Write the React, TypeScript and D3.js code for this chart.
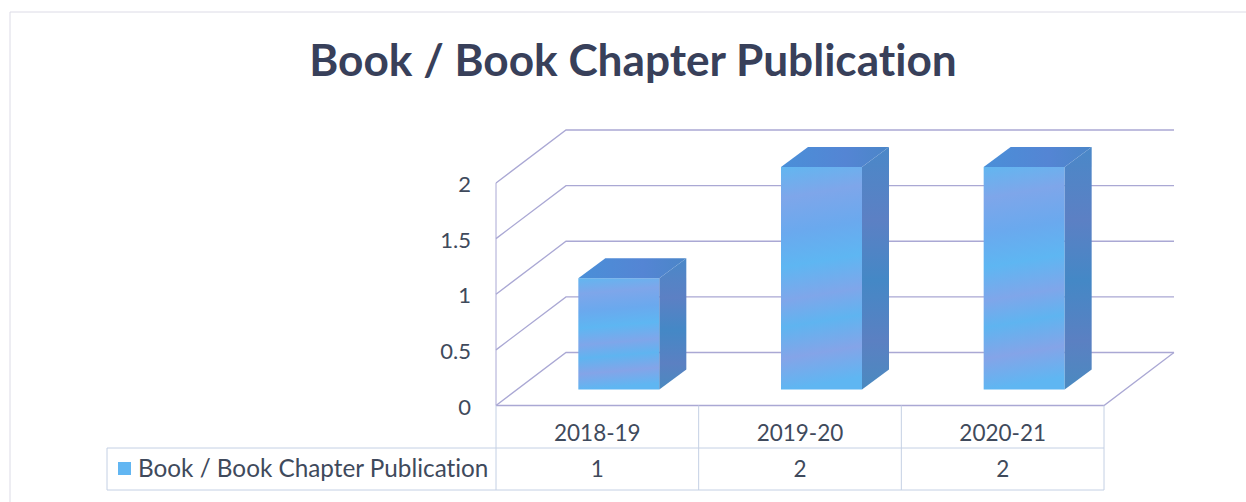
import React from "react";
import * as d3 from "d3";

const categories = ["2018-19", "2019-20", "2020-21"];
const seriesName = "Book / Book Chapter Publication";
const seriesValues = [1, 2, 2];
const yTicks = [0, 0.5, 1, 1.5, 2];
const title = "Book / Book Chapter Publication";

const W = 1246, H = 502;
const FONT = "Lato, Carlito, 'Open Sans', sans-serif";
const TEXT = "#3f4a5c";
const GRID = "#aaa8d4";
const TABLE = "#c4d0e4";

const x0 = 496, x1 = 1104, y0 = 405.5, y2 = 183;
const depthX = 70, depthY = 53;
const barDepthX = 27, barDepthY = 20;
const barInset = 16;
const barW = 81;
const legendLeft = 107, rowMid = 448, rowBottom = 490;

const x = d3.scaleBand<string>().domain(categories).range([x0, x1]);
const y = d3.scaleLinear().domain([0, 2]).range([y0, y2]);
const pts = (a: number[][]) => a.map((p) => p.join(",")).join(" ");

export default function App() {
  const floor = y(0);
  const line = d3.line();
  return (
    <svg width={W} height={H} viewBox={`0 0 ${W} ${H}`} style={{ position: "absolute", left: 0, top: 0, background: "#fff", fontVariantLigatures: "none" }} fontFamily={FONT}>
      <defs>
        <linearGradient id="front" x1="0" y1="0" x2="0.06" y2="1">
          <stop offset="0" stopColor="#62b6f0" />
          <stop offset="0.14" stopColor="#7ea6ea" />
          <stop offset="0.3" stopColor="#6aa9ee" />
          <stop offset="0.45" stopColor="#5eb6f2" />
          <stop offset="0.6" stopColor="#7fa6ea" />
          <stop offset="0.72" stopColor="#5fb4f0" />
          <stop offset="0.86" stopColor="#84a4e8" />
          <stop offset="1" stopColor="#5fb6f2" />
        </linearGradient>
        <linearGradient id="side" x1="0" y1="0" x2="0" y2="1">
          <stop offset="0" stopColor="#4a88c8" />
          <stop offset="0.3" stopColor="#5c80c4" />
          <stop offset="0.55" stopColor="#4488c6" />
          <stop offset="0.8" stopColor="#5b80c2" />
          <stop offset="1" stopColor="#4a8ac0" />
        </linearGradient>
        <linearGradient id="top" x1="0" y1="0" x2="1" y2="0">
          <stop offset="0" stopColor="#4a8fd8" />
          <stop offset="0.6" stopColor="#5485d4" />
          <stop offset="1" stopColor="#4b86c8" />
        </linearGradient>
      </defs>

      <path d="M10,503 V12 H1246" fill="none" stroke="#dcdbe6" strokeWidth={1} />

      <text x={633} y={76} textAnchor="middle" fontSize={44.2} fontWeight={700} fill="#38405a">{title}</text>

      {/* walls */}
      <path d={line([[x0, y(2)], [x0, floor]]) ?? ""} stroke={GRID} fill="none" />
      {yTicks.map((t) => (
        <path key={t} d={line([[x0, y(t)], [x0 + depthX, y(t) - depthY], [x1 + depthX, y(t) - depthY]]) ?? ""} stroke={GRID} strokeWidth={1.3} fill="none" />
      ))}
      <path d={line([[x0, floor], [x1, floor], [x1 + depthX, floor - depthY]]) ?? ""} stroke={GRID} strokeWidth={1.3} fill="none" />

      {/* y labels */}
      {yTicks.map((t) => (
        <text key={t} x={471} y={y(t) + 9} textAnchor="end" fontSize={22} fill={TEXT}>{t}</text>
      ))}

      {/* bars */}
      {categories.map((c, i) => {
        const left = (x(c) ?? 0) + x.bandwidth() / 2 - barW / 2 + 21.5;
        const right = left + barW;
        const bottom = y(0) - barInset;
        const top = bottom - (y(0) - y(seriesValues[i]));
        return (
          <g key={c}>
            <rect x={left} y={top} width={barW} height={bottom - top} fill="url(#front)" />
            <polygon points={pts([[right, top], [right + barDepthX, top - barDepthY], [right + barDepthX, bottom - barDepthY], [right, bottom]])} fill="url(#side)" />
            <polygon points={pts([[left, top], [left + barDepthX, top - barDepthY], [right + barDepthX, top - barDepthY], [right, top]])} fill="url(#top)" />
          </g>
        );
      })}

      {/* data table */}
      <g stroke={TABLE} fill="none">
        <path d={`M${legendLeft},${rowMid} H${x1} M${legendLeft},${rowBottom} H${x1} M${legendLeft},${rowMid} V${rowBottom}`} />
        <path d={`M${x0},${floor} V${rowBottom}`} />
        {categories.map((c) => (
          <path key={c} d={`M${(x(c) ?? 0) + x.bandwidth()},${floor} V${rowBottom}`} />
        ))}
      </g>
      {categories.map((c, i) => (
        <g key={c} textAnchor="middle" fontSize={22.5} fill={TEXT}>
          <text x={(x(c) ?? 0) + x.bandwidth() / 2} y={441}>{c}</text>
          <text x={(x(c) ?? 0) + x.bandwidth() / 2} y={477}>{seriesValues[i]}</text>
        </g>
      ))}
      <rect x={118} y={462} width={13} height={13} fill="#62b6f2" />
      <text x={138} y={477} fontSize={24.3} fill={TEXT}>{seriesName}</text>
    </svg>
  );
}
